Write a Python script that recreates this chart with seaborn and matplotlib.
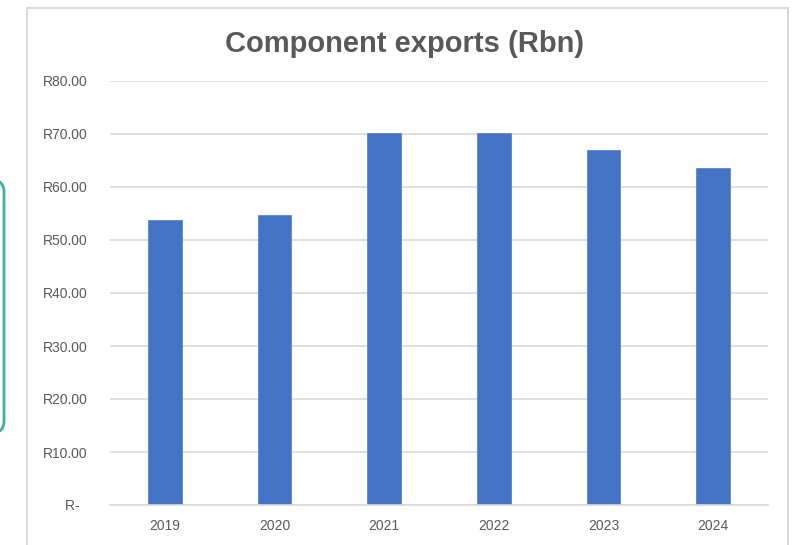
import pandas as pd
import matplotlib.pyplot as plt
import seaborn as sns
from matplotlib.patches import Rectangle, FancyBboxPatch

# === Data ===
years = ["2019", "2020", "2021", "2022", "2023", "2024"]
exports_rbn = [53.8, 54.7, 70.1, 70.2, 67.0, 63.5]
ytick_vals = [0, 10, 20, 30, 40, 50, 60, 70, 80]
ytick_labels = ["R-  ", "R10.00", "R20.00", "R30.00", "R40.00",
                "R50.00", "R60.00", "R70.00", "R80.00"]

df = pd.DataFrame({"year": years, "exports": exports_rbn})

sns.set_theme(style="white")
plt.rcParams["font.family"] = ["Liberation Sans", "DejaVu Sans"]

grey_txt = "#595959"
grid_col = "#d9d9d9"

fig = plt.figure(figsize=(7.97, 5.45), dpi=100)
ax = fig.add_axes([110 / 797, 1 - 505 / 545, 658 / 797, 424 / 545])

sns.barplot(data=df, x="year", y="exports", color="#4472C4",
            width=0.31, saturation=1, edgecolor="#5b86d4", linewidth=0.6, ax=ax)

ax.set_ylim(0, 80)
ax.set_xlim(-0.5, len(years) - 0.5)
ax.set_yticks(ytick_vals)
ax.set_yticklabels(ytick_labels)
ax.yaxis.grid(True, color=grid_col, linewidth=1.2)
ax.set_axisbelow(True)
for s in ["top", "right", "left"]:
    ax.spines[s].set_visible(False)
ax.spines["bottom"].set_color(grid_col)
ax.spines["bottom"].set_linewidth(1.2)
ax.tick_params(axis="y", length=0, pad=16, labelsize=10, labelcolor=grey_txt)
ax.tick_params(axis="x", length=0, pad=10, labelsize=10, labelcolor=grey_txt)
ax.set_xlabel("")
ax.set_ylabel("")

# title centred on the chart frame
fig.text(405 / 797, 1 - 44 / 545, "Component exports (Rbn)", ha="center", va="center",
         fontsize=21, fontweight="bold", color=grey_txt)

# chart frame (runs off the bottom of the screenshot)
fig.patches.append(Rectangle((27 / 797, -0.05), 761 / 797, 1.05 - 8 / 545,
                             transform=fig.transFigure, fill=False,
                             edgecolor=grid_col, linewidth=1.5))

# teal rounded box peeking in at the left edge
fig.patches.append(FancyBboxPatch((-40 / 797, 1 - 435 / 545), 44 / 797, 257 / 545,
                                  boxstyle="round,pad=0,rounding_size=0.025",
                                  transform=fig.transFigure, fill=False,
                                  edgecolor="#3bb0a5", linewidth=2))

fig.savefig("out.png", dpi=100)
